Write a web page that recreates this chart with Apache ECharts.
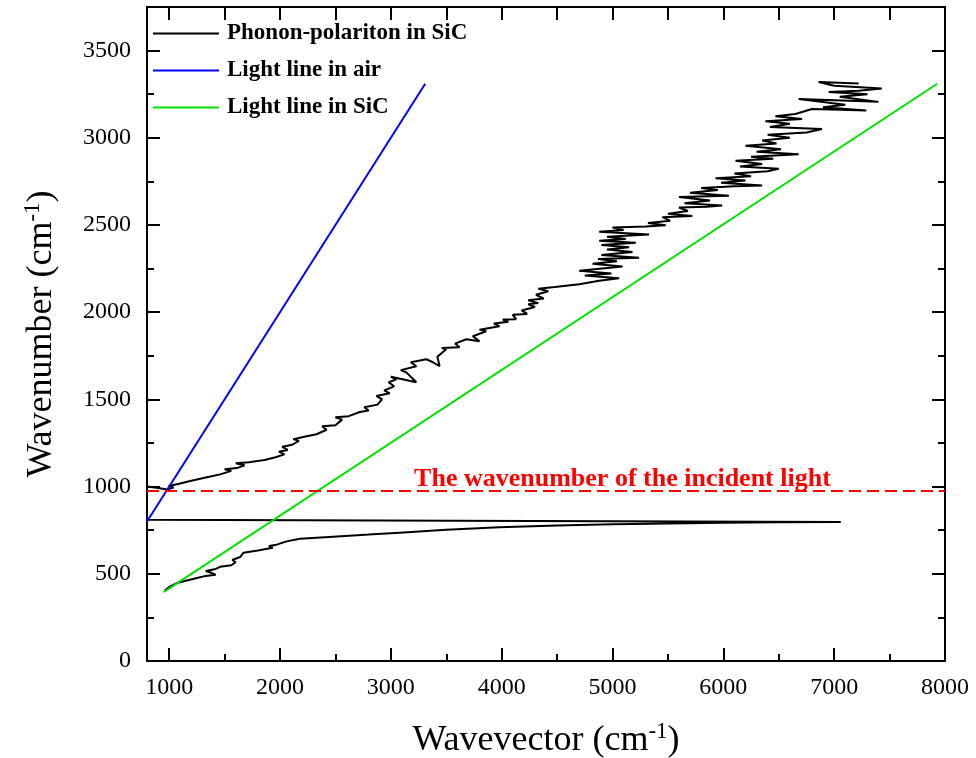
<!DOCTYPE html>
<html>
<head>
<meta charset="utf-8">
<script src="https://cdn.jsdelivr.net/npm/echarts@6/dist/echarts.min.js"></script>
<style>
html,body{margin:0;padding:0;background:#fff;}
#main{width:976px;height:758px;}
</style>
</head>
<body>
<div id="main"></div>
<script>
var myChart = echarts.init(document.getElementById('main'));

// tick labels
var xMajor = [1000, 2000, 3000, 4000, 5000, 6000, 7000, 8000];
var xMinor = [1500, 2500, 3500, 4500, 5500, 6500, 7500];
var xTop = [1000, 1500, 2000, 2500, 3000, 3500, 4000, 4500, 5000, 5500, 6000, 6500, 7000, 7500];
var yMajor = [0, 500, 1000, 1500, 2000, 2500, 3000, 3500];
var yMinor = [250, 750, 1250, 1750, 2250, 2750, 3250];

// phonon-polariton, lower branch (wavevector, wavenumber)
var lowerBranch = [
  [960,405],[1010,428],[1070,447],[1150,460],[1250,476],[1330,488],[1420,494],[1380,506],
  [1330,516],[1420,528],[1460,540],[1560,549],[1600,566],[1570,579],[1640,596],[1670,621],
  [1800,634],[1935,649],[1900,659],[1970,667],[2060,686],[2180,701],[2480,713],[2800,725],
  [3080,736],[3500,752],[3980,767],[4500,777],[5000,784],[5500,789],[6000,793],[6500,796],
  [7060,797]
];
// gap segment back to the axis
var gapPart = [[800,810],[800,985]];
// upper branch
var upperBranch = [
  [800,1000],[900,992],[985,984],[1040,994],[995,1004],[1090,1016],[1200,1034],[1330,1052],
  [1460,1070],[1560,1090],[1500,1100],[1610,1106],[1680,1122],[1600,1134],[1720,1140],[1860,1152],
  [1960,1168],[2040,1185],[1990,1200],[2070,1210],[2020,1228],[2110,1240],[2170,1262],[2120,1272],
  [2250,1290],[2330,1300],[2420,1326],[2380,1346],[2500,1352],[2560,1384],[2500,1398],[2620,1404],
  [2720,1428],[2800,1436],[2760,1455],[2880,1470],[2920,1500],[2870,1520],[2990,1535],[2940,1552],
  [3030,1575],[2980,1598],[3050,1615],[3000,1630],[3230,1598],[3140,1655],[3090,1668],[3230,1690],
  [3180,1713],[3320,1730],[3380,1713],[3440,1690],[3420,1745],[3500,1787],[3460,1795],[3620,1799],
  [3580,1820],[3680,1845],[3800,1833],[3740,1862],[3860,1891],[3800,1900],[3980,1920],[3930,1935],
  [4060,1945],[4010,1958],[4130,1960],[4100,1985],[4230,1990],[4180,2010],[4300,2030],[4240,2045],
  [4330,2052],[4240,2068],[4380,2078],[4310,2100],[4420,2120],[4330,2135],[4480,2145],[4700,2160],
  [4880,2180],[5060,2195],[4750,2210],[4990,2222],[4700,2238],[5090,2262],[4820,2278],[5040,2292],
  [4870,2305],[5240,2312],[4900,2328],[5180,2345],[4950,2360],[5150,2372],[4900,2385],[5210,2398],
  [4880,2410],[5120,2420],[4950,2432],[5330,2446],[4880,2462],[5100,2472],[5000,2485],[5300,2492],
  [5480,2498],[5320,2512],[5520,2525],[5450,2545],[5720,2552],[5500,2565],[5680,2580],[5600,2600],
  [5850,2605],[5990,2612],[5650,2625],[5880,2640],[5600,2660],[6050,2668],[5700,2685],[5950,2700],
  [5800,2712],[6100,2722],[6350,2726],[5980,2742],[6200,2755],[5930,2768],[6250,2780],[6100,2795],
  [6400,2808],[6500,2822],[6150,2836],[6350,2850],[6110,2868],[6450,2880],[6250,2892],[6680,2906],
  [6300,2920],[6520,2935],[6200,2955],[6480,2968],[6350,2985],[6600,3000],[6400,3018],[6750,3030],
  [6890,3050],[6420,3062],[6600,3080],[6380,3095],[6710,3108],[6470,3124],[6650,3136],[6800,3165],
  [7290,3156],[6900,3175],[7100,3190],[6680,3222],[7400,3206],[7050,3235],[7300,3250],[6950,3262],
  [7220,3270],[7430,3282],[7000,3298],[6860,3320],[7220,3312]
];
var airLine = [[800,800],[3310,3310]];
var sicLine = [[950,395],[7930,3310]];
var incidentLine = [[800,975],[8000,975]];
var incidentText = 'The wavenumber of the incident light';
var incidentTextAt = [5090,1040];

var phonon = lowerBranch.concat(gapPart, upperBranch);

var serif = 'Liberation Serif';
var black = '#000';
function plain(v) { return String(v); }

function xAx(pos, ticks, len, withLabel) {
  var a = {
    type: 'value', position: pos, min: 800, max: 8000,
    axisLine: {show: true, onZero: false, lineStyle: {color: black, width: 2}},
    axisTick: {show: true, inside: true, length: len, customValues: ticks, lineStyle: {color: black, width: 2}},
    axisLabel: {show: false},
    splitLine: {show: false}
  };
  if (withLabel) {
    a.axisLabel = {show: true, customValues: ticks, formatter: plain, fontFamily: serif, fontSize: 24, color: black, margin: 15};
    a.name = '{a|Wavevector (cm}{s|-1}{a|)}';
    a.nameLocation = 'middle';
    a.nameGap = 59;
    a.nameTextStyle = {
      rich: {
        a: {fontFamily: serif, fontSize: 36, color: black, lineHeight: 42},
        s: {fontFamily: serif, fontSize: 23, color: black, verticalAlign: 'top', lineHeight: 42}
      }
    };
  }
  return a;
}
function yAx(pos, ticks, len, withLabel) {
  var a = {
    type: 'value', position: pos, min: 0, max: 3750,
    axisLine: {show: true, onZero: false, lineStyle: {color: black, width: 2}},
    axisTick: {show: true, inside: true, length: len, customValues: ticks, lineStyle: {color: black, width: 2}},
    axisLabel: {show: false},
    splitLine: {show: false}
  };
  if (withLabel) {
    a.axisLabel = {show: true, customValues: ticks, formatter: plain, fontFamily: serif, fontSize: 24, color: black, margin: 16};
    a.name = '{a|Wavenumber (cm}{s|-1}{a|)}';
    a.nameLocation = 'middle';
    a.nameGap = 84;
    a.nameTextStyle = {
      rich: {
        a: {fontFamily: serif, fontSize: 36, color: black, lineHeight: 42},
        s: {fontFamily: serif, fontSize: 23, color: black, verticalAlign: 'top', lineHeight: 42}
      }
    };
  }
  return a;
}

var option = {
  animation: false,
  backgroundColor: '#fff',
  grid: {left: 147, right: 31, top: 7, bottom: 97, outerBoundsMode: 'none', containLabel: false},
  legend: {
    orient: 'vertical', left: 153, top: 22, padding: 0,
    icon: 'rect', itemWidth: 66, itemHeight: 2, itemGap: 14,
    data: ['Phonon-polariton in SiC', 'Light line in air', 'Light line in SiC'],
    textStyle: {fontFamily: serif, fontWeight: 'bold', fontSize: 23, color: black, lineHeight: 23, padding: [0, 0, 0, 3]}
  },
  xAxis: [
    xAx('bottom', xMajor, 13, true),
    xAx('bottom', xMinor, 7, false),
    xAx('top', xTop, 13, false)
  ],
  yAxis: [
    yAx('left', yMajor, 13, true),
    yAx('left', yMinor, 7, false),
    yAx('right', yMajor, 13, false),
    yAx('right', yMinor, 7, false)
  ],
  series: [
    {
      name: 'Phonon-polariton in SiC', type: 'line', data: phonon, symbol: 'none',
      lineStyle: {color: black, width: 2}, itemStyle: {color: black}
    },
    {
      name: 'Light line in air', type: 'line', data: airLine, symbol: 'none',
      lineStyle: {color: '#0000ff', width: 2}, itemStyle: {color: '#0000ff'}
    },
    {
      name: 'Light line in SiC', type: 'line', data: sicLine, symbol: 'none',
      lineStyle: {color: '#00e000', width: 2}, itemStyle: {color: '#00e000'}
    },
    {
      name: 'incident', type: 'line', data: incidentLine, symbol: 'none',
      lineStyle: {color: '#ff0000', width: 2, type: [12, 6]}, itemStyle: {color: '#ff0000'},
      markPoint: {
        symbol: 'rect', symbolSize: 1, itemStyle: {color: 'rgba(0,0,0,0)'},
        label: {
          show: true, position: 'inside', formatter: incidentText,
          fontFamily: serif, fontWeight: 'bold', fontSize: 26, color: '#ff0000'
        },
        data: [{coord: incidentTextAt}]
      }
    }
  ]
};
myChart.setOption(option);
</script>
</body>
</html>
